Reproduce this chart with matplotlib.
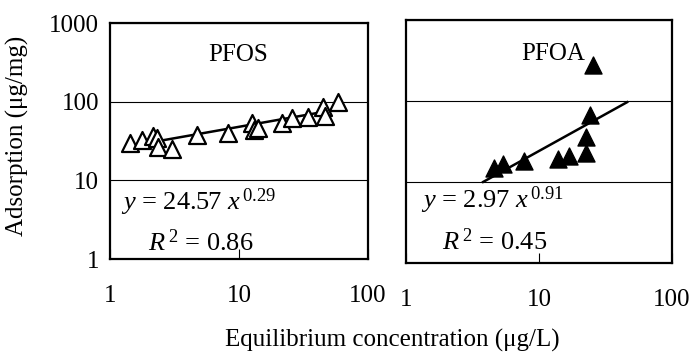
import numpy as np
import matplotlib
matplotlib.use("Agg")
import matplotlib.pyplot as plt
from matplotlib.ticker import FixedLocator, NullLocator

plt.rcParams['font.family'] = ['Liberation Serif', 'DejaVu Serif']
plt.rcParams['mathtext.fontset'] = 'custom'
plt.rcParams['mathtext.rm'] = 'Liberation Serif'
plt.rcParams['mathtext.it'] = 'Liberation Serif:italic'

# PFOS data (equilibrium conc ug/L, adsorption ug/mg)
pfos_x = [1.43, 1.77, 2.15, 2.31, 2.36, 3.02, 4.72, 8.2, 12.6, 13.1, 14.0,
          21.5, 25.8, 34.3, 44.8, 46.4, 58.5]
pfos_y = [29.8, 32.6, 36.7, 34.5, 26.5, 25.0, 37.8, 40.1, 53.8, 43.8, 46.4,
          53.8, 62.3, 64.2, 86.3, 66.2, 100]
pfos_a, pfos_b = 24.57, 0.29
pfos_line_x = [1.4, 62]

# PFOA data
pfoa_x = [4.56, 5.33, 7.65, 13.8, 16.9, 22.7, 22.7, 24.3, 25.6]
pfoa_y = [14.7, 16.5, 18.0, 19.1, 20.9, 22.9, 35.6, 68.1, 281]
pfoa_a, pfoa_b = 2.97, 0.91
pfoa_line_x = [3.8, 46]

W, H = 692, 358
fig = plt.figure(figsize=(W / 100, H / 100), dpi=100)

def box(l, t, r, b):
    return [l / W, 1 - b / H, (r - l) / W, (b - t) / H]

ax1 = fig.add_axes(box(110, 23, 368, 259))
ax2 = fig.add_axes(box(406, 20, 672, 263))

fs = 18
fs_eq = 19

def style(ax):
    ax.set_xscale('log')
    ax.set_yscale('log')
    ax.set_xlim(1, 100)
    ax.set_ylim(1, 1000)
    for s in ax.spines.values():
        s.set_linewidth(1.6)
    ax.yaxis.set_major_locator(FixedLocator([1, 10, 100, 1000]))
    ax.yaxis.set_minor_locator(NullLocator())
    ax.xaxis.set_major_locator(FixedLocator([1, 10, 100]))
    ax.xaxis.set_minor_locator(NullLocator())
    ax.grid(axis='y', which='major', color='black', linewidth=0.8)
    ax.tick_params(axis='y', length=0, pad=8, labelsize=fs)
    ax.tick_params(axis='x', direction='in', length=7, width=0.8,
                   pad=19, labelsize=fs)

style(ax1)
style(ax2)
ax1.set_yticklabels(['1', '10', '100', '1000'])
ax1.set_xticklabels(['1', '10', '100'])
ax2.set_yticklabels([])
ax2.set_xticklabels(['1', '10', '100'])

# markers
ax1.scatter(pfos_x, pfos_y, marker='^', s=150, facecolors='white',
            edgecolors='black', linewidths=1.6, zorder=3)
ax2.scatter(pfoa_x, pfoa_y, marker='^', s=150, facecolors='black',
            edgecolors='black', linewidths=1, zorder=3)

# power trendlines
lx = np.logspace(np.log10(pfos_line_x[0]), np.log10(pfos_line_x[1]), 50)
ax1.plot(lx, pfos_a * lx ** pfos_b, color='black', linewidth=1.8, zorder=2)
lx = np.logspace(np.log10(pfoa_line_x[0]), np.log10(pfoa_line_x[1]), 50)
ax2.plot(lx, pfoa_a * lx ** pfoa_b, color='black', linewidth=1.8, zorder=4)

# labels
fig.text(238 / W, 1 - 55 / H, 'PFOS', fontsize=fs, ha='center', va='center')
fig.text(553 / W, 1 - 54 / H, 'PFOA', fontsize=fs, ha='center', va='center')

fig.text(121 / W, 1 - 202 / H, r'$y$ = 24.57 $x^{\,0.29}$', fontsize=fs_eq,
         ha='left', va='center')
fig.text(148 / W, 1 - 243 / H, r'$R^{\,2}$ = 0.86', fontsize=fs_eq,
         ha='left', va='center')
fig.text(421 / W, 1 - 200 / H, r'$y$ = 2.97 $x^{\,0.91}$', fontsize=fs_eq,
         ha='left', va='center')
fig.text(442 / W, 1 - 242 / H, r'$R^{\,2}$ = 0.45', fontsize=fs_eq,
         ha='left', va='center')

fig.text(17 / W, 1 - 136 / H, 'Adsorption (μg/mg)', fontsize=fs,
         rotation=90, ha='center', va='center')
fig.text(392 / W, 1 - 340 / H, 'Equilibrium concentration (μg/L)',
         fontsize=fs, ha='center', va='center')

fig.savefig('out.png', dpi=100)
